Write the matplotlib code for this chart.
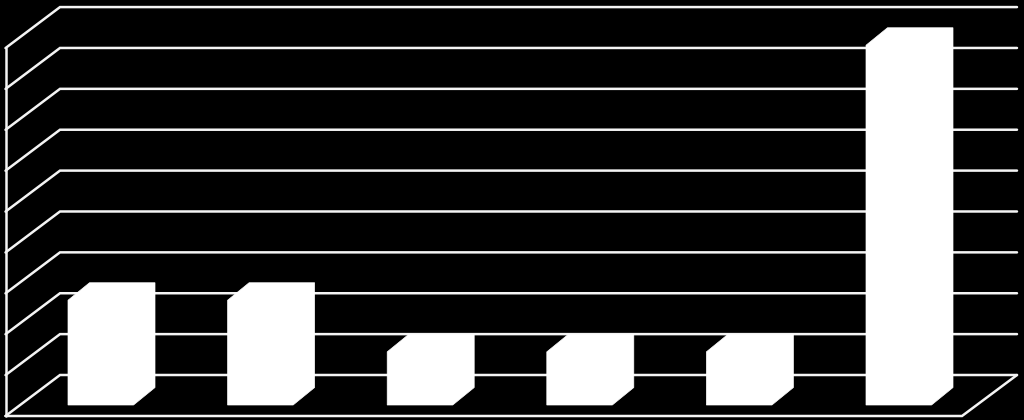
import matplotlib
matplotlib.use("Agg")
import matplotlib.pyplot as plt
from matplotlib.patches import Polygon

# values, grid every 0.8
categories = ["A", "B", "C", "D", "E", "F"]
values = [2.05, 2.05, 1.04, 1.04, 1.04, 7.04]
grid_ticks = [0.0, 0.8, 1.6, 2.4, 3.2, 4.0, 4.8, 5.6, 6.4, 7.2]

# pixel scales of the fake 3d projection
PX_CAT = 159.6
PX_VAL = 51.1
W, H = 1024, 420
BASE_X, BASE_Y = 68, 405      # front lower left of first bar
BAR_W = 65.5 / PX_CAT
DX, DY = 21.5 / PX_CAT, 17.5 / PX_VAL  # bar depth
# wall corners, relative to the bar base
WALL_X0 = (5.5 - BASE_X) / PX_CAT
WALL_X1 = (60 - BASE_X) / PX_CAT
WALL_X2 = (1017 - BASE_X) / PX_CAT
FLOOR_X = (962 - BASE_X) / PX_CAT
FRONT_Y = (BASE_Y - 416) / PX_VAL
BACK_Y = (BASE_Y - 375) / PX_VAL

fig = plt.figure(figsize=(W / 100, H / 100), dpi=100, facecolor="black")
ax = fig.add_axes([0, 0, 1, 1], facecolor="black")
ax.set_xlim(-BASE_X / PX_CAT, (W - BASE_X) / PX_CAT)
ax.set_ylim((BASE_Y - H) / PX_VAL, BASE_Y / PX_VAL)
ax.axis("off")

line = dict(color="#f4f4f4", lw=1.8, solid_capstyle="round", solid_joinstyle="miter", zorder=1)

# grid on back wall and side wall
for t in grid_ticks:
    ax.plot([WALL_X0, WALL_X1, WALL_X2],
            [FRONT_Y + t, BACK_Y + t, BACK_Y + t], **line)

# front edge of the wall and floor
ax.plot([WALL_X0, WALL_X0], [FRONT_Y, FRONT_Y + grid_ticks[-1]], **line)
ax.plot([WALL_X0, FLOOR_X, WALL_X2], [FRONT_Y, FRONT_Y, BACK_Y], **line)

# bars, all white so only the outline shows
for i, v in enumerate(values):
    pts = [(i, 0), (i + BAR_W, 0), (i + BAR_W + DX, DY), (i + BAR_W + DX, v + DY),
           (i + DX, v + DY), (i, v)]
    ax.add_patch(Polygon(pts, closed=True, fc="white", ec="white", lw=0.5, zorder=2))

fig.savefig("out.png", dpi=100, facecolor="black")
